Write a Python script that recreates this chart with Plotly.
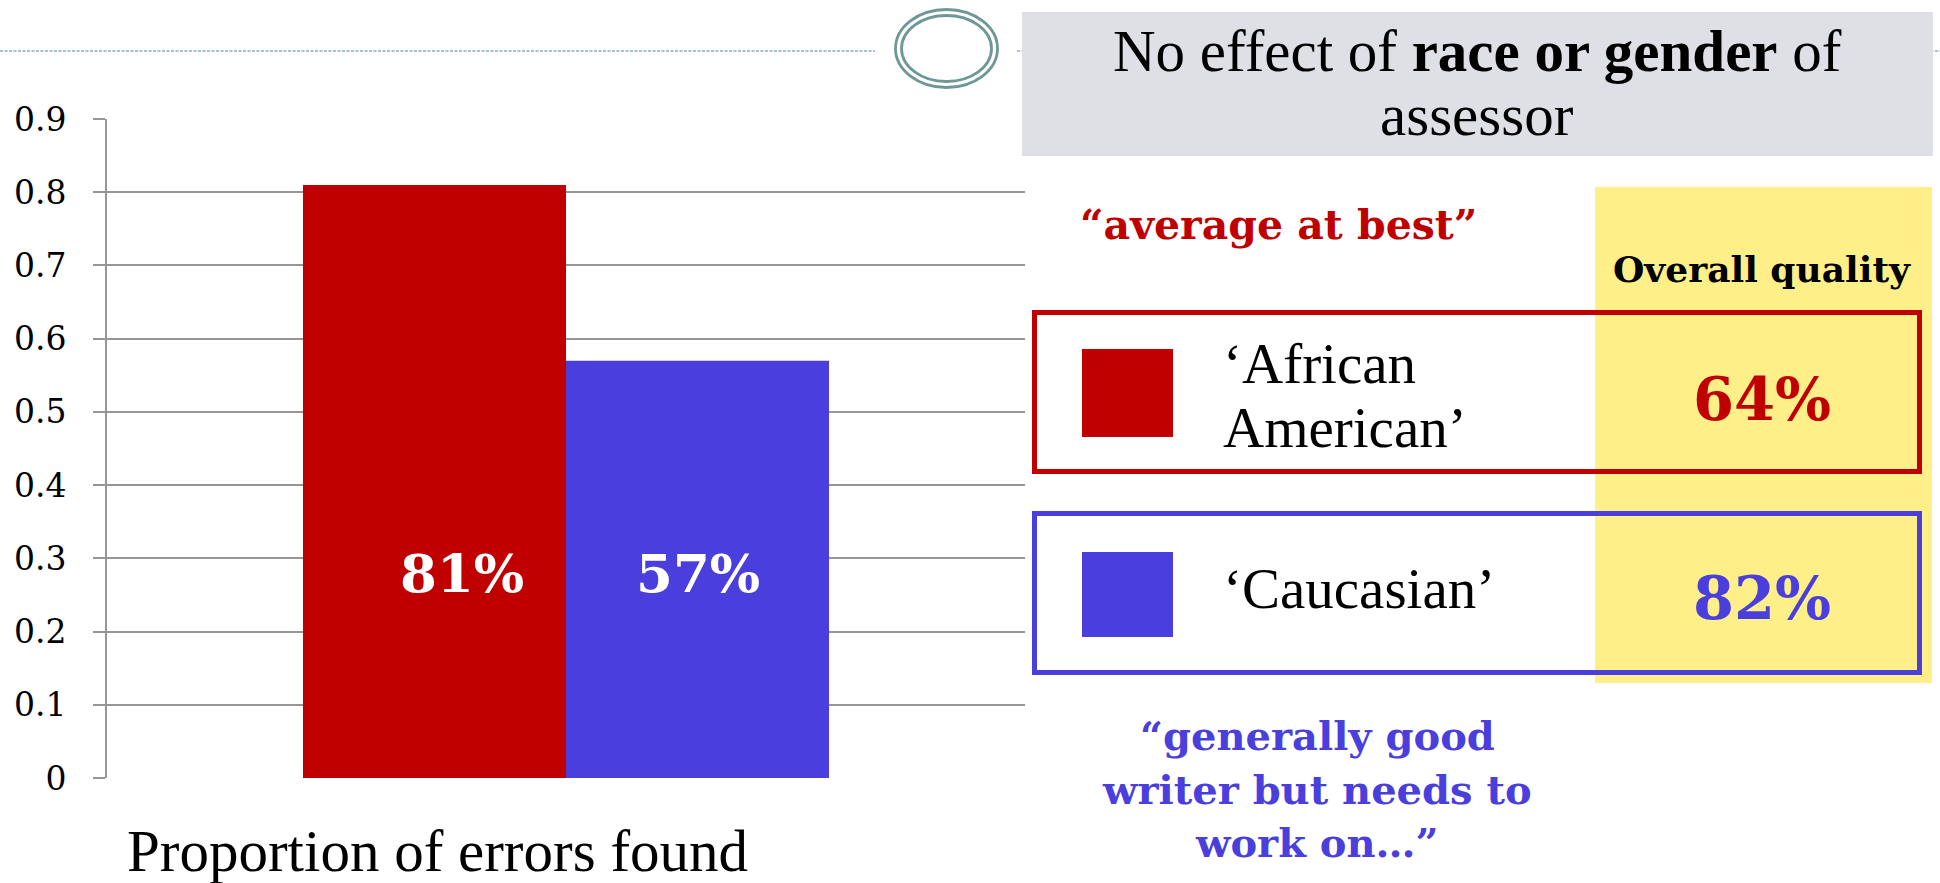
import plotly.graph_objects as go

# ---- data ----
groups = ["African American", "Caucasian"]
errors_found = [0.81, 0.57]          # proportion of errors found
overall_quality = [0.64, 0.82]       # overall quality rating
bar_colors = ["#C00000", "#4A3FDD"]
y_tickvals = [0, 0.1, 0.2, 0.3, 0.4, 0.5, 0.6, 0.7, 0.8, 0.9]
y_ticktext = ["0", "0.1", "0.2", "0.3", "0.4", "0.5", "0.6", "0.7", "0.8", "0.9"]
category = "Proportion of errors found"

W, H = 1940, 883


def X(px):
    return px / W


def Y(py):
    return 1 - py / H


SERIF = "Liberation Serif, Times New Roman, serif"
WIDE = "DejaVu Serif, serif"
GRID = "#969696"

fig = go.Figure()
for name, val, col in zip(groups, errors_found, bar_colors):
    fig.add_trace(go.Bar(x=[category], y=[val], name=name,
                         marker=dict(color=col, line=dict(width=0)),
                         showlegend=False, hoverinfo="skip"))

fig.update_layout(
    width=W, height=H, autosize=False,
    margin=dict(l=0, r=0, t=0, b=0, pad=0, autoexpand=False),
    paper_bgcolor="white", plot_bgcolor="white",
    barmode="group", bargap=0.427, bargroupgap=0,
    xaxis=dict(domain=[X(107), X(1025)], range=[-0.5, 0.5],
               showticklabels=False, showgrid=False, zeroline=False,
               showline=False, ticks="", automargin=False),
    yaxis=dict(domain=[Y(778), Y(119)], range=[0, 0.9],
               tickvals=y_tickvals, ticktext=y_ticktext,
               tickfont=dict(family=WIDE, size=33, color="black"),
               showgrid=True, gridcolor=GRID, gridwidth=2,
               zeroline=False, showline=True, linecolor=GRID, linewidth=2,
               ticks="outside", ticklen=12, tickcolor=GRID, tickwidth=2,
               ticklabelstandoff=20, automargin=False),
)

shapes = []
# dashed header rule and double ellipse ornament
shapes.append(dict(type="line", xref="paper", yref="paper",
                   x0=X(0), x1=X(875), y0=Y(51), y1=Y(51),
                   line=dict(color="#8AAEAF", width=1.5, dash="3px,1.5px")))
shapes.append(dict(type="line", xref="paper", yref="paper",
                   x0=X(1017), x1=X(1940), y0=Y(51), y1=Y(51),
                   line=dict(color="#8AAEAF", width=1.5, dash="3px,1.5px")))
for (x0, x1, y0, y1) in [(895.5, 997.5, 9.5, 87.5), (901.5, 991.5, 15.5, 81.5)]:
    shapes.append(dict(type="circle", xref="paper", yref="paper",
                       x0=X(x0), x1=X(x1), y0=Y(y1), y1=Y(y0),
                       line=dict(color="#6E9797", width=2.8)))
# grey heading panel
shapes.append(dict(type="rect", xref="paper", yref="paper",
                   x0=X(1022), x1=X(1933), y0=Y(156), y1=Y(12),
                   fillcolor="#DFE0E5", line=dict(width=0)))
# yellow highlight column
shapes.append(dict(type="rect", xref="paper", yref="paper",
                   x0=X(1595), x1=X(1932), y0=Y(683), y1=Y(187),
                   fillcolor="#FFEF88", line=dict(width=0)))
# outlined rows and colour keys
rows = [(312.5, 471.5, 349, 437), (513.5, 672.5, 552, 637)]
for (ry0, ry1, sy0, sy1), col in zip(rows, bar_colors):
    shapes.append(dict(type="rect", xref="paper", yref="paper",
                       x0=X(1034.5), x1=X(1919.5), y0=Y(ry1), y1=Y(ry0),
                       line=dict(color=col, width=5)))
    shapes.append(dict(type="rect", xref="paper", yref="paper",
                       x0=X(1082), x1=X(1173), y0=Y(sy1), y1=Y(sy0),
                       fillcolor=col, line=dict(width=0)))
fig.update_layout(shapes=shapes)


def note(text, x, y, size, family, color="black", xanchor="center"):
    fig.add_annotation(text=text, xref="paper", yref="paper",
                       x=X(x), y=Y(y), xanchor=xanchor, yanchor="middle",
                       showarrow=False,
                       font=dict(family=family, size=size, color=color))


def pct(v):
    return f"{round(v * 100)}%"


# value labels on the bars
note(f"<b>{pct(errors_found[0])}</b>", 462, 573, 53, WIDE, "white")
note(f"<b>{pct(errors_found[1])}</b>", 698, 573, 53, WIDE, "white")
note(category, 437, 851, 59, SERIF)

# heading
note("No effect of <b>race or gender</b> of", 1477, 51, 59, SERIF)
note("assessor", 1477, 115, 59, SERIF)

# quotes and table
note("<b>\u201caverage at best\u201d</b>", 1278, 225, 41, WIDE, bar_colors[0])
note("<b>Overall quality</b>", 1762, 269, 36, WIDE)
note("\u2018African", 1221, 363, 57, SERIF, xanchor="left")
note("American\u2019", 1221, 427, 57, SERIF, xanchor="left")
note("\u2018Caucasian\u2019", 1221, 588, 57, SERIF, xanchor="left")
note(f"<b>{pct(overall_quality[0])}</b>", 1762, 399, 59, WIDE, bar_colors[0])
note(f"<b>{pct(overall_quality[1])}</b>", 1762, 598, 59, WIDE, bar_colors[1])
for txt, yy in [("\u201cgenerally good", 735), ("writer but needs to", 789),
                ("work on\u2026\u201d", 842)]:
    note(f"<b>{txt}</b>", 1317, yy, 40, WIDE, bar_colors[1])

fig.write_html("out.html")
